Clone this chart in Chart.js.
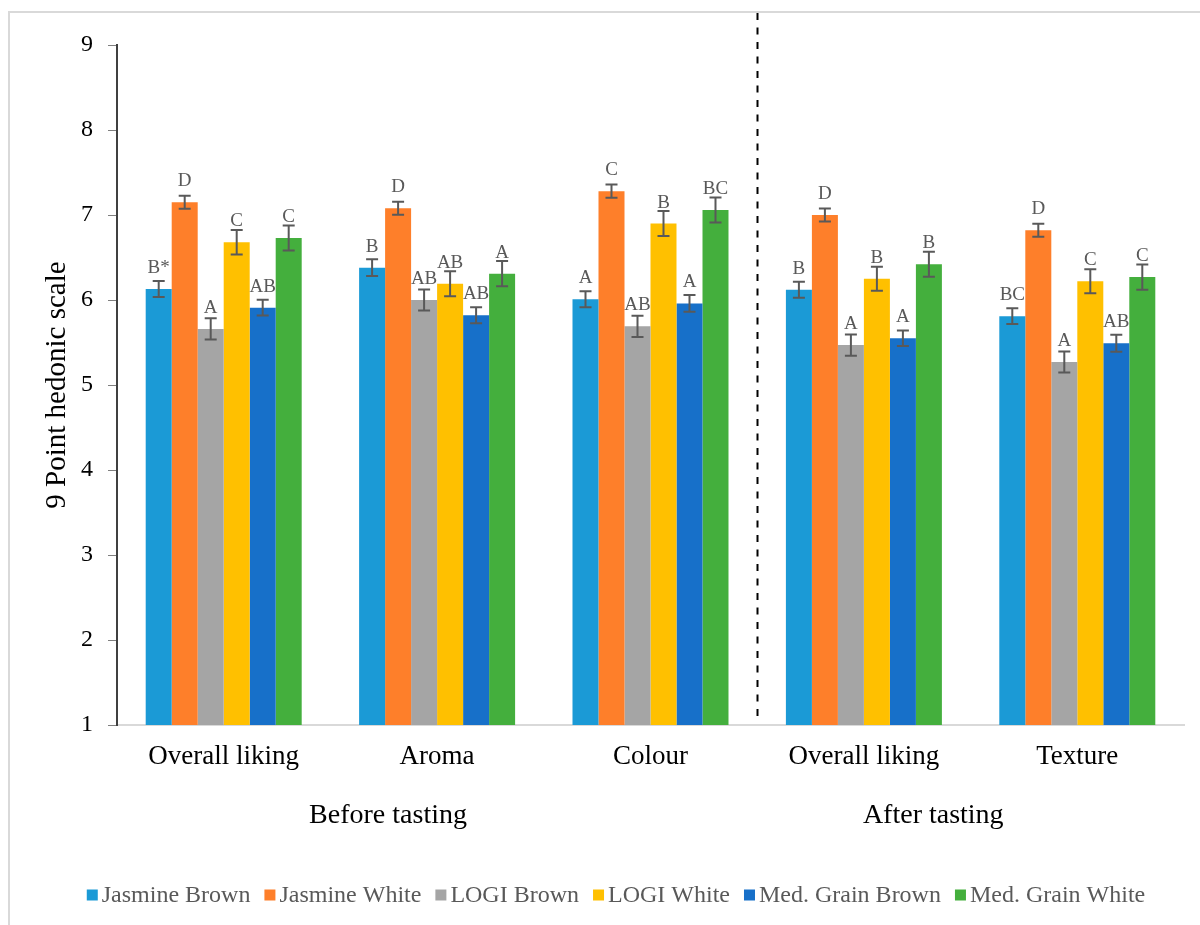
<!DOCTYPE html>
<html>
<head>
<meta charset="utf-8">
<script src="https://cdn.jsdelivr.net/npm/chart.js@4.4.1/dist/chart.umd.min.js"></script>
<style>
  html, body { margin: 0; padding: 0; background: #ffffff; }
  #wrap { width: 1200px; height: 925px; position: relative; }
</style>
</head>
<body>
<div id="wrap"><canvas id="c" width="1200" height="925"></canvas></div>
<script>
// Sensory attributes (x axis) and the tasting phase they belong to
const categories = ['Overall liking', 'Aroma', 'Colour', 'Overall liking', 'Texture'];
const phaseLabels = ['Before tasting', 'After tasting'];
const seriesNames = ['Jasmine Brown', 'Jasmine White', 'LOGI Brown', 'LOGI White', 'Med. Grain Brown', 'Med. Grain White'];
const yTicks = [1, 2, 3, 4, 5, 6, 7, 8, 9];

// Mean hedonic scores
const jasmineBrown   = [6.13, 6.38, 6.01, 6.12, 5.81];
const jasmineWhite   = [7.15, 7.08, 7.28, 7.00, 6.82];
const logiBrown      = [5.66, 6.00, 5.69, 5.47, 5.27];
const logiWhite      = [6.68, 6.19, 6.90, 6.25, 6.22];
const medGrainBrown  = [5.91, 5.82, 5.96, 5.55, 5.49];
const medGrainWhite  = [6.73, 6.31, 7.06, 6.42, 6.27];

// Standard errors
const jasmineBrownErr  = [0.095, 0.098, 0.094, 0.094, 0.092];
const jasmineWhiteErr  = [0.077, 0.076, 0.078, 0.076, 0.076];
const logiBrownErr     = [0.125, 0.124, 0.124, 0.125, 0.124];
const logiWhiteErr     = [0.145, 0.147, 0.147, 0.141, 0.141];
const medGrainBrownErr = [0.092, 0.094, 0.098, 0.092, 0.100];
const medGrainWhiteErr = [0.147, 0.149, 0.147, 0.147, 0.149];

// Significance groupings
const jasmineBrownSig  = ['B*', 'B', 'A', 'B', 'BC'];
const jasmineWhiteSig  = ['D', 'D', 'C', 'D', 'D'];
const logiBrownSig     = ['A', 'AB', 'AB', 'A', 'A'];
const logiWhiteSig     = ['C', 'AB', 'B', 'B', 'C'];
const medGrainBrownSig = ['AB', 'AB', 'A', 'A', 'AB'];
const medGrainWhiteSig = ['C', 'A', 'BC', 'B', 'C'];

const seriesValues = [jasmineBrown, jasmineWhite, logiBrown, logiWhite, medGrainBrown, medGrainWhite];
const seriesErrors = [jasmineBrownErr, jasmineWhiteErr, logiBrownErr, logiWhiteErr, medGrainBrownErr, medGrainWhiteErr];
const seriesSig = [jasmineBrownSig, jasmineWhiteSig, logiBrownSig, logiWhiteSig, medGrainBrownSig, medGrainWhiteSig];
const seriesColors = ['#1b9ad6', '#fe7f2a', '#a5a5a5', '#ffc000', '#1770c9', '#44af3d'];

const SERIF = '"Liberation Serif", "Times New Roman", serif';

const decorations = {
  id: 'decorations',
  beforeDraw(chart) {
    const ctx = chart.ctx;
    ctx.save();
    ctx.fillStyle = '#ffffff';
    ctx.fillRect(0, 0, chart.width, chart.height);
    // outer frame
    ctx.strokeStyle = '#d9d9d9';
    ctx.lineWidth = 2;
    ctx.beginPath();
    ctx.moveTo(9, chart.height + 5);
    ctx.lineTo(9, 12);
    ctx.lineTo(chart.width + 5, 12);
    ctx.stroke();
    ctx.restore();
  },
  afterDatasetsDraw(chart) {
    const ctx = chart.ctx;
    const y = chart.scales.y;
    const x = chart.scales.x;
    ctx.save();
    // error bars
    chart.data.datasets.forEach((ds, di) => {
      const meta = chart.getDatasetMeta(di);
      meta.data.forEach((bar, i) => {
        const v = ds.data[i];
        const e = seriesErrors[di][i];
        const yt = y.getPixelForValue(v + e);
        const yb = y.getPixelForValue(v - e);
        ctx.strokeStyle = '#595959';
        ctx.lineWidth = 2;
        ctx.beginPath();
        ctx.moveTo(bar.x, yt); ctx.lineTo(bar.x, yb);
        ctx.moveTo(bar.x - 6, yt); ctx.lineTo(bar.x + 6, yt);
        ctx.moveTo(bar.x - 6, yb); ctx.lineTo(bar.x + 6, yb);
        ctx.stroke();
        // significance letters
        ctx.fillStyle = '#595959';
        ctx.font = '19px ' + SERIF;
        ctx.textAlign = 'center';
        ctx.textBaseline = 'alphabetic';
        ctx.fillText(seriesSig[di][i], bar.x, bar.y - 16);
      });
    });
    // separator between the two tasting phases
    const sx = Math.round(x.getPixelForValue(2.5)) + 0.5;
    ctx.strokeStyle = '#000000';
    ctx.lineWidth = 2;
    ctx.setLineDash([7, 7.5]);
    ctx.beginPath();
    ctx.moveTo(sx, 13);
    ctx.lineTo(sx, chart.chartArea.bottom - 2);
    ctx.stroke();
    ctx.setLineDash([]);
    ctx.restore();
  },
  afterDraw(chart) {
    const ctx = chart.ctx;
    const x = chart.scales.x;
    ctx.save();
    // phase labels
    ctx.fillStyle = '#000000';
    ctx.font = '28px ' + SERIF;
    ctx.textAlign = 'center';
    ctx.textBaseline = 'middle';
    ctx.fillText(phaseLabels[0], x.getPixelForValue(0.77), 816);
    ctx.fillText(phaseLabels[1], x.getPixelForValue(3.325), 816);
    // legend
    ctx.font = '24px ' + SERIF;
    const box = 11, gap = 4, spacing = 14;
    const widths = seriesNames.map(n => ctx.measureText(n).width);
    const total = widths.reduce((a, w) => a + box + gap + w, 0) + spacing * (seriesNames.length - 1);
    let lx = 616 - total / 2;
    const ly = 895;
    ctx.textAlign = 'left';
    ctx.textBaseline = 'middle';
    seriesNames.forEach((n, i) => {
      ctx.fillStyle = seriesColors[i];
      ctx.fillRect(lx, ly - box / 2, box, box);
      ctx.fillStyle = '#595959';
      ctx.fillText(n, lx + box + gap, ly + 1);
      lx += box + gap + widths[i] + spacing;
    });
    ctx.restore();
  }
};

new Chart(document.getElementById('c'), {
  type: 'bar',
  data: {
    labels: categories,
    datasets: seriesNames.map((name, i) => ({
      label: name,
      data: seriesValues[i],
      backgroundColor: seriesColors[i],
      borderWidth: 0,
      categoryPercentage: 0.731,
      barPercentage: 1.0
    }))
  },
  options: {
    responsive: false,
    animation: false,
    devicePixelRatio: 1,
    layout: { padding: { top: 45, right: 16, left: 0, bottom: 0 } },
    plugins: {
      legend: { display: false },
      tooltip: { enabled: false }
    },
    scales: {
      x: {
        grid: { display: true, drawOnChartArea: false, drawTicks: false },
        border: { display: true, color: '#d9d9d9', width: 2 },
        ticks: { color: '#000000', font: { family: SERIF, size: 27 }, padding: 16, maxRotation: 0 },
        afterFit(scale) { scale.height = 200; }
      },
      y: {
        min: 1, max: 9,
        afterBuildTicks(scale) { scale.ticks = yTicks.map(v => ({ value: v })); },
        grid: { display: true, drawOnChartArea: false, drawTicks: true, tickLength: 9, color: '#7f7f7f', lineWidth: 1 },
        border: { display: true, color: '#404040', width: 2 },
        ticks: { color: '#000000', font: { family: SERIF, size: 24 }, padding: 15 },
        title: { display: true, text: '9 Point hedonic scale', color: '#000000', font: { family: SERIF, size: 29 }, padding: { top: 40, bottom: 0 } },
        afterFit(scale) { scale.width = 117; }
      }
    }
  },
  plugins: [decorations]
});
</script>
</body>
</html>
